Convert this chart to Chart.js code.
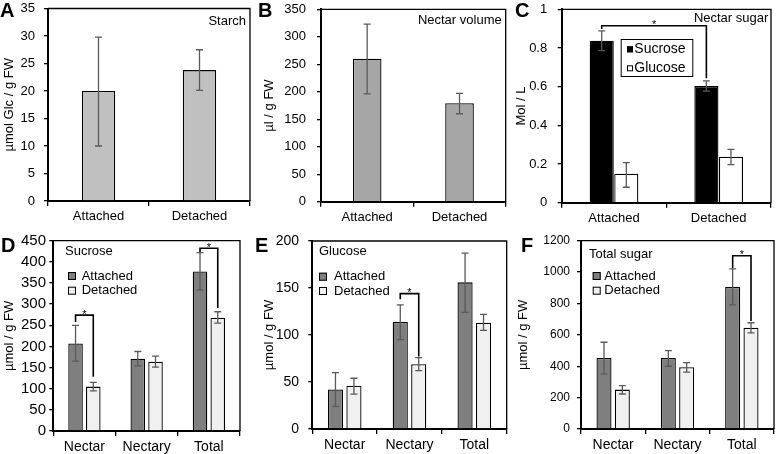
<!DOCTYPE html>
<html><head><meta charset="utf-8">
<script src="https://cdn.jsdelivr.net/npm/chart.js@4.4.1/dist/chart.umd.min.js"></script>
<style>
html,body{margin:0;padding:0;background:#fff;}
#wrap{position:relative;width:776px;height:454px;overflow:hidden;font-family:'Liberation Sans',Arial,sans-serif;}
canvas{position:absolute;}
.lt{position:absolute;font-weight:bold;font-size:20px;line-height:20px;color:#000;}
</style></head>
<body><div id="wrap"></div>
<script>
// ---------- data ----------
const catsAB = ['Attached', 'Detached'];
const starchMean = [20, 23.8];
const starchLow  = [10, 20.1];
const starchHigh = [29.8, 27.5];

const volumeMean = [260, 179];
const volumeLow  = [196, 160];
const volumeHigh = [323, 197];

const nectarSucMean = [0.838, 0.603];
const nectarSucLow  = [0.786, 0.577];
const nectarSucHigh = [0.888, 0.630];
const nectarGluMean = [0.15, 0.238];
const nectarGluLow  = [0.08, 0.197];
const nectarGluHigh = [0.207, 0.276];

const catsDEF = ['Nectar', 'Nectary', 'Total'];
const sucAtt     = [207, 171, 377];
const sucAttLow  = [165, 154, 333];
const sucAttHigh = [250, 188, 422];
const sucDet     = [105, 164, 268];
const sucDetLow  = [95, 151, 255];
const sucDetHigh = [115, 177, 282];

const gluAtt     = [42, 114, 156];
const gluAttLow  = [24, 95, 124];
const gluAttHigh = [60, 132, 187];
const gluDet     = [46, 69, 113];
const gluDetLow  = [37, 62, 105];
const gluDetHigh = [54, 76, 122];

const totAtt     = [453, 453, 906];
const totAttLow  = [351, 400, 791];
const totAttHigh = [553, 500, 1021];
const totDet     = [251, 394, 645];
const totDetLow  = [223, 362, 613];
const totDetHigh = [277, 423, 677];

// y-axis ranges [max, step]
const yA = [35, 5], yB = [350, 50], yC = [1, 0.2], yD = [450, 50], yE = [200, 50], yF = [1200, 200];

// significance brackets: level, left end, right end (data units)
const brC = [0.915, 0.898, 0.643];
const brDnectar = [274, 258, 128];
const brDtotal = [432, 423, 291];
const brE = [144, 138, 77];
const brF = [1104, 1024, 688];

// ---------- helpers ----------
const FONT = "'Liberation Sans', Arial, sans-serif";
const wrap = document.getElementById('wrap');

function panel(p) {
  const cv = document.createElement('canvas');
  cv.width = p.box[2]; cv.height = p.box[3];
  cv.style.left = p.box[0] + 'px'; cv.style.top = p.box[1] + 'px';
  cv.style.width = p.box[2] + 'px'; cv.style.height = p.box[3] + 'px';
  wrap.appendChild(cv);
  const [cx, cy, cw, ch] = p.box;
  const [l, t, r, b] = p.area;
  const decor = {
    id: 'decor' + p.letter,
    afterDatasetsDraw(chart) {
      const ctx = chart.ctx, ys = chart.scales.y, a = chart.chartArea;
      ctx.save();
      // error bars
      p.errs.forEach((e, di) => {
        const meta = chart.getDatasetMeta(di);
        meta.data.forEach((bar, j) => {
          const x = bar.x, y1 = ys.getPixelForValue(e[0][j]), y2 = ys.getPixelForValue(e[1][j]);
          ctx.strokeStyle = '#5a5a5a'; ctx.lineWidth = 1.3;
          ctx.beginPath();
          ctx.moveTo(x, y1); ctx.lineTo(x, y2);
          ctx.moveTo(x - 3.5, y1); ctx.lineTo(x + 3.5, y1);
          ctx.moveTo(x - 3.5, y2); ctx.lineTo(x + 3.5, y2);
          ctx.stroke();
        });
      });
      // brackets
      (p.brackets || []).forEach(br => {
        const xa = chart.getDatasetMeta(br.a[0]).data[br.a[1]].x;
        const xb = chart.getDatasetMeta(br.b[0]).data[br.b[1]].x;
        const yl = ys.getPixelForValue(br.v[0]);
        ctx.strokeStyle = '#000'; ctx.lineWidth = 1.6;
        ctx.beginPath();
        ctx.moveTo(xa, ys.getPixelForValue(br.v[1]));
        ctx.lineTo(xa, yl); ctx.lineTo(xb, yl);
        ctx.lineTo(xb, ys.getPixelForValue(br.v[2]));
        ctx.stroke();
        ctx.fillStyle = '#000'; ctx.font = '11px ' + FONT;
        ctx.textAlign = 'center'; ctx.textBaseline = 'alphabetic';
        ctx.fillText('*', (xa + xb) / 2, yl + 2.5);
      });
      // box top/right
      ctx.strokeStyle = '#000'; ctx.lineWidth = 1.3;
      ctx.beginPath();
      ctx.moveTo(a.left, a.top); ctx.lineTo(a.right, a.top); ctx.lineTo(a.right, a.bottom);
      ctx.stroke();
      // panel label
      ctx.fillStyle = '#000'; ctx.font = (p.label.size || 13) + 'px ' + FONT;
      ctx.textBaseline = 'middle';
      ctx.textAlign = p.label.align;
      const lx = p.label.align === 'right' ? a.right - p.label.dx : a.left + p.label.dx;
      ctx.fillText(p.label.text, lx, a.top + p.label.dy);
      // legend
      if (p.legend) {
        const L = p.legend;
        if (L.frame) {
          ctx.lineWidth = 1; ctx.strokeStyle = '#000';
          ctx.strokeRect(a.left + L.frame[0] + 0.5, a.top + L.frame[1] + 0.5, L.frame[2], L.frame[3]);
        }
        L.items.forEach((it, k) => {
          const yy = a.top + L.rows[k];
          ctx.fillStyle = it.color;
          ctx.fillRect(a.left + L.bx, yy - L.bs / 2, L.bs, L.bs);
          ctx.lineWidth = 1; ctx.strokeStyle = '#000';
          ctx.strokeRect(a.left + L.bx + 0.5, yy - L.bs / 2 + 0.5, L.bs - 1, L.bs - 1);
          ctx.fillStyle = '#000'; ctx.font = L.size + 'px ' + FONT;
          ctx.textAlign = 'left'; ctx.textBaseline = 'middle';
          ctx.fillText(it.text, a.left + L.tx, yy);
        });
      }
      ctx.restore();
    }
  };
  const noPad = s => { s.paddingTop = 0; s.paddingBottom = 0; s.paddingLeft = 0; s.paddingRight = 0; };
  new Chart(cv, {
    type: 'bar',
    data: { labels: p.labels, datasets: p.datasets.map(d => Object.assign({
      borderColor: '#000', borderWidth: 1.3,
      categoryPercentage: p.cp, barPercentage: p.bp }, d)) },
    options: {
      responsive: false, animation: false, events: [],
      layout: { padding: { left: 0, top: t - cy, right: cx + cw - r, bottom: 0 } },
      plugins: { legend: { display: false }, tooltip: { enabled: false } },
      scales: {
        x: {
          grid: { offset: true, drawOnChartArea: false, drawTicks: true, tickLength: 5, color: '#000', lineWidth: 1.3 },
          border: { display: true, color: '#000', width: 2 },
          ticks: { color: '#000', font: { family: FONT, size: p.xfs }, padding: 3, maxRotation: 0 },
          afterFit: s => { s.height = cy + ch - b; noPad(s); }
        },
        y: {
          min: 0, max: p.y[0],
          grid: { drawOnChartArea: false, drawTicks: true, tickLength: 4, color: '#000', lineWidth: 1.3 },
          border: { display: true, color: '#000', width: 2 },
          ticks: { stepSize: p.y[1], color: '#000', font: { family: FONT, size: p.yfs }, padding: p.ypad,
                   callback: v => String(Math.round(v * 100) / 100) },
          title: { display: true, text: p.title, color: '#000', font: { family: FONT, size: 13 }, padding: { top: p.tpad, bottom: 0 } },
          afterFit: s => { s.width = l - cx; noPad(s); }
        }
      }
    },
    plugins: [decor]
  });
  const d = document.createElement('div');
  d.className = 'lt'; d.textContent = p.letter;
  d.style.left = p.lpos[0] + 'px'; d.style.top = p.lpos[1] + 'px';
  wrap.appendChild(d);
}

const ATT = '#7f7f7f', DET = '#f0f0f0';

panel({ letter: 'A', lpos: [0, 0], box: [0, 0, 258, 225], area: [48, 8.5, 250, 201],
  labels: catsAB, y: yA, title: 'µmol Glc / g FW', tpad: 2, ypad: 9, xfs: 13, yfs: 13, cp: 1, bp: 0.33,
  datasets: [{ data: starchMean, backgroundColor: '#c0c0c0' }],
  errs: [[starchLow, starchHigh]],
  label: { text: 'Starch', align: 'right', dx: 4, dy: 13 } });

panel({ letter: 'B', lpos: [258, 0], box: [258, 0, 255, 225], area: [321, 9.3, 505.7, 201.7],
  labels: catsAB, y: yB, title: 'µl / g FW', tpad: 4, ypad: 11, xfs: 13, yfs: 13, cp: 1, bp: 0.31,
  datasets: [{ data: volumeMean, backgroundColor: '#a6a6a6' }],
  errs: [[volumeLow, volumeHigh]],
  label: { text: 'Nectar volume', align: 'right', dx: 4, dy: 11.5 } });

panel({ letter: 'C', lpos: [515, 0], box: [513, 0, 263, 225], area: [561.7, 9.3, 771, 202.7],
  labels: catsAB, y: yC, title: 'Mol / L', tpad: 1, ypad: 10.5, xfs: 13, yfs: 13, cp: 0.47, bp: 0.98,
  datasets: [{ data: nectarSucMean, backgroundColor: '#000' }, { data: nectarGluMean, backgroundColor: '#fff' }],
  errs: [[nectarSucLow, nectarSucHigh], [nectarGluLow, nectarGluHigh]],
  brackets: [{ a: [0, 0], b: [0, 1], v: brC }],
  label: { text: 'Nectar sugar', align: 'right', dx: 2.7, dy: 9 },
  legend: { frame: [59, 29.7, 71.6, 37], bx: 65.3, bs: 6, tx: 72.6, rows: [40, 59], size: 14,
    items: [{ text: 'Sucrose', color: '#000' }, { text: 'Glucose', color: '#fff' }] } });

panel({ letter: 'D', lpos: [1, 235], box: [0, 225, 258, 229], area: [53.3, 240.7, 240, 431],
  labels: catsDEF, y: yD, title: 'µmol / g FW', tpad: 2, ypad: 3.3, xfs: 14, yfs: 15, cp: 0.57, bp: 0.82,
  datasets: [{ data: sucAtt, backgroundColor: ATT }, { data: sucDet, backgroundColor: DET }],
  errs: [[sucAttLow, sucAttHigh], [sucDetLow, sucDetHigh]],
  brackets: [{ a: [0, 0], b: [1, 0], v: brDnectar }, { a: [0, 2], b: [1, 2], v: brDtotal }],
  label: { text: 'Sucrose', align: 'left', dx: 11.7, dy: 11 },
  legend: { bx: 14.7, bs: 8, tx: 28.4, rows: [35.3, 50], size: 13,
    items: [{ text: 'Attached', color: ATT }, { text: 'Detached', color: DET }] } });

panel({ letter: 'E', lpos: [255, 235], box: [258, 225, 255, 229], area: [312.3, 241, 506.7, 429],
  labels: catsDEF, y: yE, title: 'µmol / g FW', tpad: 4, ypad: 9.3, xfs: 14, yfs: 14, cp: 0.57, bp: 0.82,
  datasets: [{ data: gluAtt, backgroundColor: ATT }, { data: gluDet, backgroundColor: DET }],
  errs: [[gluAttLow, gluAttHigh], [gluDetLow, gluDetHigh]],
  brackets: [{ a: [0, 1], b: [1, 1], v: brE }],
  label: { text: 'Glucose', align: 'left', dx: 6.7, dy: 10.7 },
  legend: { bx: 6.7, bs: 8, tx: 21.7, rows: [35.7, 50], size: 13,
    items: [{ text: 'Attached', color: ATT }, { text: 'Detached', color: DET }] } });

panel({ letter: 'F', lpos: [521, 235], box: [513, 225, 263, 229], area: [581, 240.7, 774, 429],
  labels: catsDEF, y: yF, title: 'µmol / g FW', tpad: 3, ypad: 7, xfs: 14, yfs: 12, cp: 0.57, bp: 0.82,
  datasets: [{ data: totAtt, backgroundColor: ATT }, { data: totDet, backgroundColor: DET }],
  errs: [[totAttLow, totAttHigh], [totDetLow, totDetHigh]],
  brackets: [{ a: [0, 2], b: [1, 2], v: brF }],
  label: { text: 'Total sugar', align: 'left', dx: 8, dy: 13.6 },
  legend: { bx: 11.7, bs: 8, tx: 23.3, rows: [35.3, 50], size: 13,
    items: [{ text: 'Attached', color: ATT }, { text: 'Detached', color: DET }] } });
</script></body></html>
